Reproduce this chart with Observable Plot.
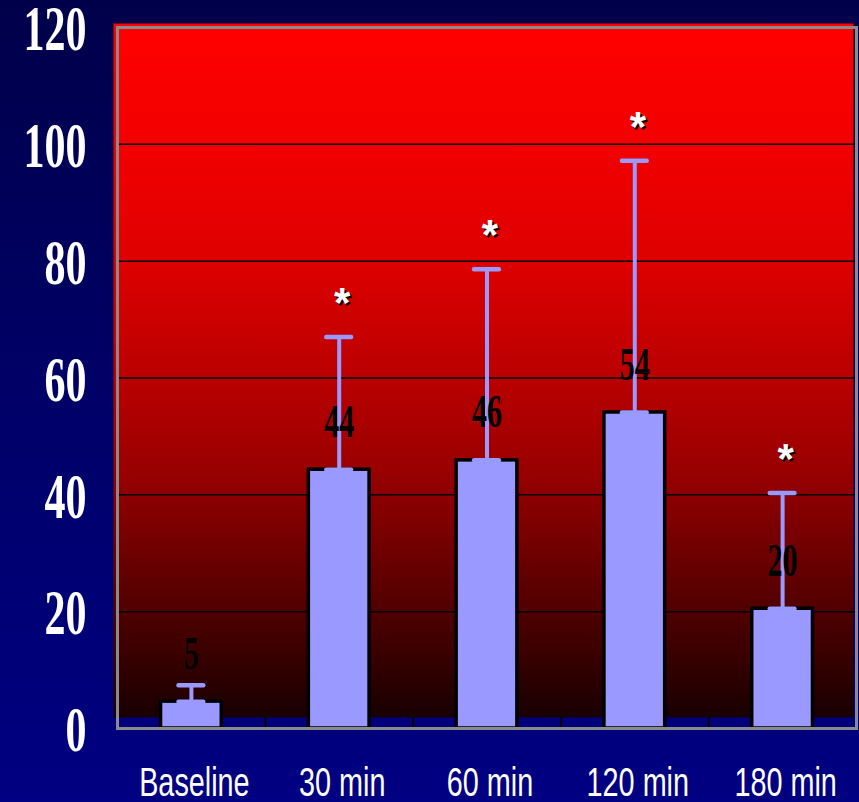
<!DOCTYPE html>
<html><head><meta charset="utf-8">
<script src="https://cdn.jsdelivr.net/npm/d3@7"></script>
<script src="https://cdn.jsdelivr.net/npm/@observablehq/plot@0.6"></script>
<style>
html,body{margin:0;padding:0;width:859px;height:802px;overflow:hidden;
  background:linear-gradient(to bottom,#00004a 0%,#000068 50%,#000082 100%);}
#chart svg{display:block;}
</style></head>
<body><div id="chart"></div>
<script>
const categories = ["Baseline", "30 min", "60 min", "120 min", "180 min"];
const means = [4.6, 44.3, 45.9, 54.1, 20.5];
const sds = [2.8, 22.7, 32.7, 43.1, 19.8];
const labels = ["5", "44", "46", "54", "20"];
const significant = [false, true, true, true, true];
const yTicks = [0, 20, 40, 60, 80, 100, 120];
const gridValues = [20, 40, 60, 80, 100];

const data = categories.map((c, i) => ({cat: c, mean: means[i], sd: sds[i], label: labels[i], sig: significant[i]}));

const W = 859, H = 802, mL = 117, mR = 3, mT = 27, mB = 74;
const step = (W - mL - mR) / categories.length;
const barColor = "#9999ff";

const chart = Plot.plot({
  width: W, height: H,
  marginLeft: mL, marginRight: mR, marginTop: mT, marginBottom: mB,
  style: {background: "transparent", overflow: "visible"},
  x: {domain: categories, paddingInner: 0.589, paddingOuter: 0.2945, round: false, label: null},
  y: {domain: [0, 120], label: null},
  marks: [
    Plot.frame({fill: "url(#redgrad)", insetLeft: -4, insetTop: -4, insetRight: 3, insetBottom: 11}),
    Plot.ruleY(gridValues, {stroke: "black", strokeWidth: 1.5}),
    Plot.ruleX(categories.slice(1), {x: d => d, dx: -step / 2, y1: 0, y2: 0, insetTop: -11, stroke: "black", strokeWidth: 2}),
    Plot.barY(data, {x: "cat", y: "mean", fill: barColor, stroke: "black", strokeWidth: 3.5}),
    Plot.ruleX(data, {x: "cat", y1: "mean", y2: d => d.mean + d.sd, stroke: barColor, strokeWidth: 4}),
    Plot.tickY(data, {x: "cat", y: d => d.mean + d.sd, stroke: barColor, strokeWidth: 4.5, strokeLinecap: "round", insetLeft: 18, insetRight: 18}),
    Plot.tickY(data, {x: "cat", y: "mean", stroke: barColor, strokeWidth: 4.5, strokeLinecap: "round", insetLeft: 18, insetRight: 18}),
    Plot.text(data, {x: "cat", y: "mean", text: "label", dy: -48, fill: "black", fontSize: 47, fontWeight: "bold", fontFamily: "Liberation Serif, Times New Roman, serif"}),
    Plot.text(data.filter(d => d.sig), {x: "cat", y: d => d.mean + d.sd, text: () => "*", dx: 4.5, dy: -31.5, fill: "black", fontSize: 42, fontWeight: "bold", fontFamily: "Liberation Sans, Arial, sans-serif"}),
    Plot.text(data.filter(d => d.sig), {x: "cat", y: d => d.mean + d.sd, text: () => "*", dx: 3, dy: -33.5, fill: "white", fontSize: 42, fontWeight: "bold", fontFamily: "Liberation Sans, Arial, sans-serif"}),
    Plot.frame({stroke: "#8a8a8a", strokeWidth: 3}),
    Plot.axisY({ticks: yTicks, tickSize: 0, tickPadding: 31, color: "white", fontSize: 63, fontWeight: "bold", dy: 2.5, fontFamily: "Liberation Serif, Times New Roman, serif", label: null}),
    Plot.axisX({tickSize: 0, tickPadding: 39, color: "white", fontSize: 40, dx: 3, fontFamily: "Liberation Sans, Arial, sans-serif", label: null})
  ]
});

const defs = document.createElementNS("http://www.w3.org/2000/svg", "defs");
defs.innerHTML = `<linearGradient id="redgrad" x1="0" y1="0" x2="0" y2="1">
  <stop offset="0" stop-color="#ff0000"/>
  <stop offset="0.176" stop-color="#f20000"/>
  <stop offset="0.341" stop-color="#de0000"/>
  <stop offset="0.514" stop-color="#b90000"/>
  <stop offset="0.644" stop-color="#990000"/>
  <stop offset="0.860" stop-color="#4b0000"/>
  <stop offset="1" stop-color="#180000"/>
</linearGradient>`;
chart.insertBefore(defs, chart.firstChild);

document.getElementById("chart").appendChild(chart);

chart.querySelectorAll("text").forEach(t => {
  if (t.textContent.trim() === "*") return;
  const fs = parseFloat(getComputedStyle(t).fontSize);
  const f = fs >= 60 ? 0.667 : fs >= 45 ? 0.64 : 0.72;
  const L = t.getComputedTextLength();
  t.setAttribute("textLength", L * f);
  t.setAttribute("lengthAdjust", "spacingAndGlyphs");
});
</script>
</body></html>
